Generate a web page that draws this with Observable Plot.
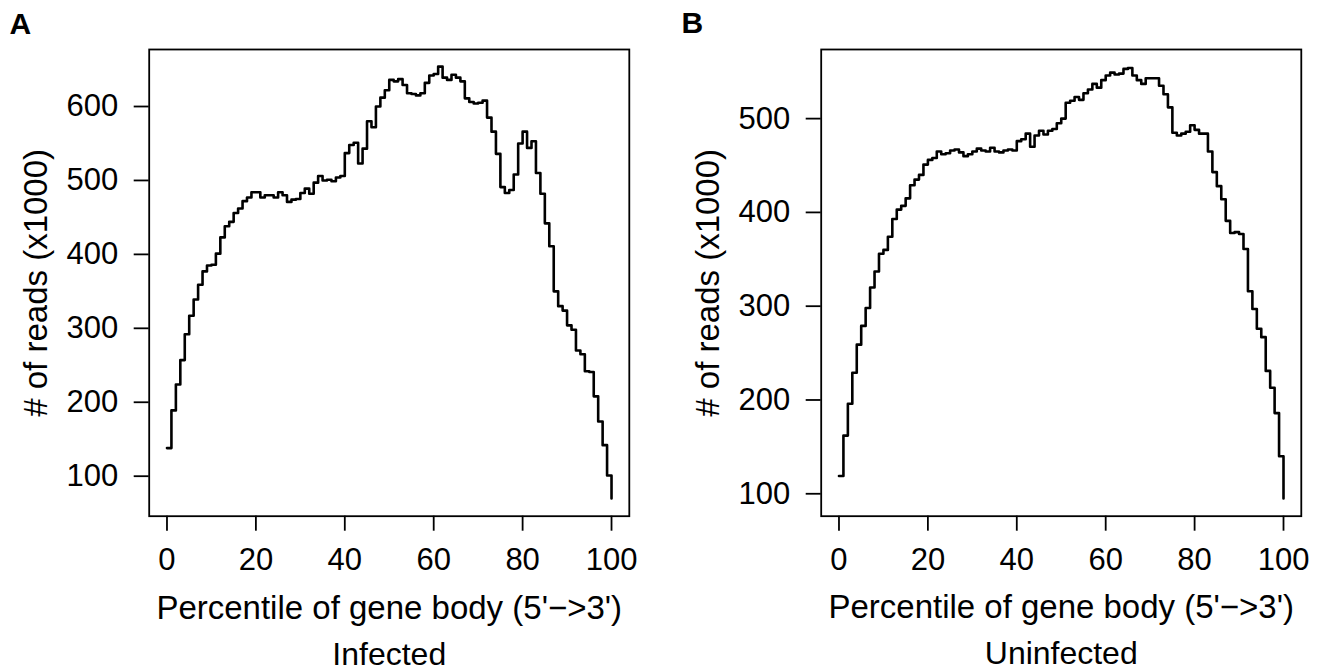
<!DOCTYPE html>
<html><head><meta charset="utf-8">
<script src="https://cdn.jsdelivr.net/npm/d3@7"></script>
<script src="https://cdn.jsdelivr.net/npm/@observablehq/plot@0.6"></script>
<style>
body{margin:0;background:#fff;}
#wrap{position:relative;width:1321px;height:672px;overflow:hidden;background:#fff;}
#wrap svg{position:absolute;top:0;}
</style></head><body><div id="wrap"></div>
<script>
const percentile = d3.range(0, 101);
const infected = [138,189,224,257,292,317,339,359,377,385,386,401,423,438,444,456,462,472,477,484,
  484,477,480,480,477,484,480,471,474,475,483,489,482,497,506,500,501,499,504,506,
  537,548,551,523,543,580,572,600,612,622,636,634,637,629,618,617,615,618,632,642,
  644,654,639,636,643,639,634,611,606,604,605,608,585,566,536,491,483,487,508,550,
  566,544,553,510,482,442,411,350,330,324,304,298,270,265,242,241,208,174,142,101,70];
const uninfected = [119,162,196,229,259,279,298,320,337,356,360,374,393,403,407,415,429,435,440,451,
  456,458,465,462,463,466,467,464,460,462,465,468,466,465,469,465,464,466,467,466,
  476,478,484,470,482,487,483,487,489,495,500,517,519,523,520,527,531,537,533,541,
  546,549,547,548,553,554,546,541,537,543,543,543,535,526,512,485,482,484,486,493,
  488,484,484,465,443,428,414,391,378,379,377,361,316,297,276,267,231,213,186,140,95];
const xTicks = [0, 20, 40, 60, 80, 100];
const yTicksA = [100, 200, 300, 400, 500, 600];
const yTicksB = [100, 200, 300, 400, 500];
const xLabel = "Percentile of gene body (5'\u2212>3')";
const yLabel = "# of reads (x1000)";
const panels = [
  {letter: "A", title: "Infected", values: infected, yDomain: [45.9, 677.1], yTicks: yTicksA, left: 0, width: 660},
  {letter: "B", title: "Uninfected", values: uninfected, yDomain: [76.1, 573.7], yTicks: yTicksB, left: 672.3, width: 648.7}
];
const FONT = "'Liberation Sans', Arial, Helvetica, sans-serif";
const mL = 148.7, mT = 49, H = 672, frameW = 480.1, frameB = 515.7;
const wrap = document.getElementById("wrap");
for (const p of panels) {
  const data = percentile.map((x, i) => ({x, v: p.values[i]}));
  const svg = Plot.plot({
    width: p.width, height: H,
    marginLeft: mL, marginRight: p.width - mL - frameW, marginTop: mT, marginBottom: H - frameB,
    style: {fontFamily: FONT, fontSize: "30px", color: "#000", background: "transparent", overflow: "visible"},
    x: {domain: [-4, 104]},
    y: {domain: p.yDomain},
    marks: [
      Plot.axisX({ticks: xTicks, tickSize: 15, tickPadding: 17, tickFormat: d => String(d), label: null, fontSize: 31, strokeWidth: 1.8}),
      Plot.axisY({ticks: p.yTicks, tickSize: 15, tickPadding: 16, tickFormat: d => String(d), label: null, fontSize: 31, strokeWidth: 1.8}),
      Plot.line(data, {x: "x", y: "v", curve: "step-after", stroke: "#000", strokeWidth: 2.6}),
      Plot.frame({stroke: "#000", strokeWidth: 1.8}),
      Plot.text([xLabel], {text: d => d, frameAnchor: "bottom", dy: 618 - frameB, textAnchor: "middle", lineAnchor: "bottom", fontSize: 33}),
      Plot.text([p.title], {text: d => d, frameAnchor: "bottom", dy: 664 - frameB, textAnchor: "middle", lineAnchor: "bottom", fontSize: 32}),
      Plot.text([yLabel], {text: d => d, frameAnchor: "left", dx: 46 - mL, rotate: -90, textAnchor: "middle", lineAnchor: "bottom", fontSize: 33}),
      Plot.text([p.letter], {text: d => d, frameAnchor: "top-left", dx: 9 - mL, dy: 33 - mT, textAnchor: "start", lineAnchor: "bottom", fontSize: 30, fontWeight: "bold"})
    ]
  });
  svg.style.left = p.left + "px";
  wrap.appendChild(svg);
}
</script></body></html>
